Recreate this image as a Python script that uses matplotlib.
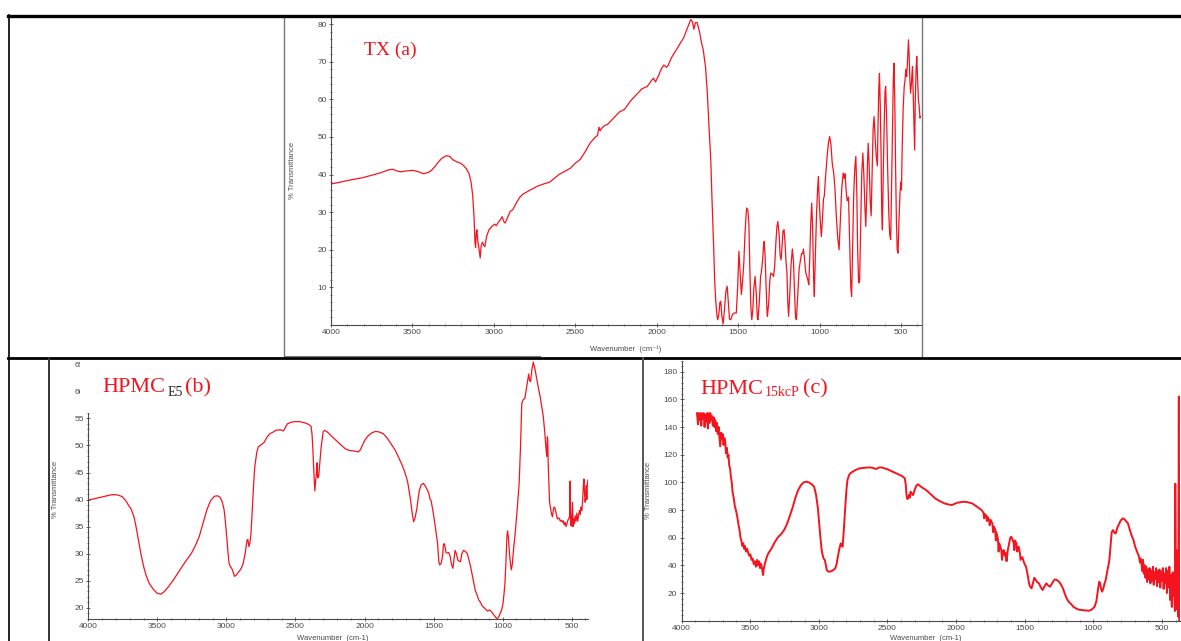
"""
FTIR spectra of TX, HPMC E5 and HPMC 15kcP, laid out as a three-cell figure.
"""
import matplotlib
matplotlib.use('Agg')
import matplotlib.pyplot as plt
import matplotlib.ticker as ticker
from matplotlib.lines import Line2D
from matplotlib.patches import Rectangle

W, H = 1181, 641
RED = '#f5141e'
GREY = '#4a4a4a'
SANS = ['Liberation Sans', 'DejaVu Sans']

# TX (a): (wavenumber, % transmittance)
spec_a = [
  (4000, 37.5), (3950, 37.9), (3900, 38.4), (3850, 38.8), (3801, 39.2), (3750, 39.8),
  (3700, 40.4), (3649, 41.2), (3620, 41.4), (3600, 41.0), (3570, 40.7), (3547, 40.9),
  (3496, 41.1), (3460, 40.7), (3432, 40.2), (3400, 40.6), (3381, 41.2), (3360, 42.2),
  (3343, 43.2), (3320, 44.3), (3292, 45.0), (3270, 44.8), (3254, 44.0), (3230, 43.4),
  (3210, 43.1), (3191, 42.6), (3170, 41.6), (3152, 40.2), (3140, 38.0), (3130, 34.5),
  (3122, 29.0), (3116, 22.0), (3112, 20.6), (3108, 24.5), (3104, 25.3), (3098, 22.0),
  (3092, 20.5), (3084, 17.8), (3078, 21.0), (3070, 22.0), (3062, 21.2), (3055, 20.8),
  (3045, 23.5), (3030, 25.3), (3012, 26.2), (2995, 26.8), (2985, 26.4), (2974, 27.2),
  (2960, 28.0), (2949, 28.8), (2938, 27.4), (2931, 27.1), (2915, 28.6), (2900, 30.2),
  (2885, 30.6), (2860, 32.6), (2840, 34.0), (2821, 34.8), (2780, 35.8), (2732, 36.9),
  (2700, 37.4), (2656, 38.0), (2600, 40.0), (2550, 41.2), (2529, 41.7), (2500, 43.0),
  (2470, 44.0), (2440, 46.0), (2410, 48.3), (2380, 49.8), (2363, 50.4), (2355, 52.6),
  (2348, 51.6), (2340, 52.2), (2320, 53.0), (2300, 53.4), (2260, 55.2), (2230, 56.6),
  (2198, 57.3), (2160, 59.6), (2121, 61.4), (2090, 62.8), (2058, 63.4), (2035, 64.8),
  (2020, 65.6), (2007, 64.6), (1990, 66.2), (1970, 68.2), (1956, 69.1), (1940, 68.5),
  (1931, 68.9), (1910, 71.0), (1892, 72.3), (1870, 73.8), (1854, 75.0), (1835, 76.3),
  (1816, 78.4), (1800, 80.2), (1791, 81.2), (1780, 80.6), (1772, 78.6), (1762, 80.4),
  (1752, 80.4), (1742, 78.8), (1735, 77.5), (1725, 75.0), (1714, 73.1), (1700, 68.5),
  (1689, 61.6), (1678, 52.0), (1668, 43.9), (1660, 33.0), (1651, 21.8), (1644, 12.0),
  (1638, 6.7), (1630, 2.5), (1625, 1.4), (1618, 3.0), (1612, 6.0), (1607, 6.3),
  (1600, 2.5), (1592, 0.3), (1584, 4.0), (1575, 9.0), (1567, 10.3), (1560, 6.0),
  (1553, 1.6), (1545, 1.4), (1535, 2.8), (1524, 3.2), (1511, 3.2), (1503, 10.0),
  (1495, 19.6), (1488, 14.0), (1480, 8.1), (1472, 12.0), (1465, 16.5), (1458, 24.0),
  (1450, 30.0), (1447, 31.1), (1440, 30.5), (1434, 27.1), (1428, 15.0), (1422, 5.0),
  (1416, 1.4), (1410, 4.0), (1403, 10.0), (1396, 12.9), (1388, 8.0), (1382, 2.0),
  (1378, 1.4), (1370, 6.0), (1362, 13.0), (1358, 13.8), (1350, 17.0), (1344, 21.0),
  (1340, 22.2), (1334, 18.0), (1328, 10.0), (1322, 3.0), (1320, 2.3), (1312, 6.0),
  (1305, 12.0), (1299, 13.8), (1290, 13.5), (1282, 12.9), (1275, 16.0), (1268, 22.0),
  (1262, 26.0), (1256, 27.5), (1248, 24.0), (1242, 18.5), (1236, 17.3), (1230, 21.0),
  (1224, 25.0), (1218, 25.3), (1212, 22.0), (1206, 17.0), (1200, 13.8), (1195, 6.0),
  (1190, 2.3), (1183, 8.0), (1175, 16.0), (1167, 20.2), (1160, 17.0), (1153, 8.0),
  (1147, 2.0), (1142, 1.4), (1135, 7.0), (1125, 15.0), (1117, 17.3), (1110, 19.0),
  (1104, 19.0), (1099, 20.2), (1092, 17.5), (1085, 14.0), (1078, 12.9), (1072, 12.0),
  (1066, 10.7), (1060, 18.0), (1054, 27.0), (1048, 32.4), (1042, 25.0), (1036, 12.0),
  (1032, 7.6), (1026, 18.0), (1018, 30.0), (1012, 36.0), (1007, 39.5), (1002, 33.0),
  (996, 28.0), (989, 23.5), (982, 28.0), (976, 33.5), (971, 34.2), (962, 40.0),
  (952, 45.5), (945, 48.5), (938, 50.1), (930, 48.0), (922, 43.0), (913, 40.4),
  (905, 36.0), (897, 29.0), (888, 23.0), (880, 20.0), (872, 28.0), (864, 36.0),
  (855, 40.4), (848, 39.0), (843, 40.2), (837, 35.9), (830, 33.0), (822, 34.0),
  (815, 22.0), (808, 10.0), (803, 7.6), (797, 20.0), (790, 35.0), (783, 42.0),
  (777, 44.8), (771, 35.0), (766, 20.0), (760, 11.2), (754, 11.5), (748, 25.0),
  (741, 40.0), (734, 45.7), (728, 40.0), (722, 32.0), (716, 26.2), (710, 35.0),
  (705, 44.0), (701, 48.3), (695, 42.0), (689, 33.0), (683, 29.0), (677, 40.0),
  (671, 52.0), (665, 55.4), (659, 50.0), (652, 45.0), (645, 42.3), (640, 55.0),
  (636, 63.0), (632, 66.9), (627, 58.0), (622, 45.0), (618, 30.0), (614, 25.3),
  (608, 42.0), (602, 55.0), (598, 62.0), (594, 63.4), (588, 55.0), (582, 42.0),
  (575, 30.0), (569, 24.0), (563, 22.7), (557, 38.0), (551, 55.0), (547, 65.0),
  (543, 69.6), (538, 60.0), (533, 42.0), (528, 28.0), (523, 20.0), (518, 19.1),
  (512, 28.0), (506, 35.0), (501, 38.0), (497, 35.9), (492, 48.0), (486, 58.0),
  (480, 63.4), (475, 65.0), (470, 68.0), (465, 66.0), (460, 70.0), (457, 73.0),
  (454, 75.8), (450, 72.0), (446, 66.0), (441, 61.6), (436, 64.0), (432, 67.0),
  (429, 68.7), (424, 60.0), (420, 52.0), (416, 46.5), (412, 60.0), (407, 68.0),
  (403, 71.4), (398, 66.0), (393, 60.0), (388, 58.0), (383, 55.0), (380, 55.4),
]

# HPMC E5 (b)
spec_b = [
  (4000, 39.9), (3950, 40.2), (3900, 40.5), (3864, 40.7), (3830, 40.9), (3808, 40.9),
  (3780, 40.8), (3753, 40.5), (3730, 39.8), (3711, 39.0), (3690, 38.2), (3670, 36.8),
  (3655, 35.0), (3642, 33.1), (3620, 30.0), (3600, 27.6), (3580, 25.8), (3559, 24.5),
  (3530, 23.4), (3503, 22.7), (3475, 22.5), (3450, 23.0), (3420, 23.9), (3380, 25.3),
  (3337, 27.0), (3295, 28.6), (3253, 30.1), (3225, 31.5), (3198, 33.1), (3170, 35.6),
  (3142, 38.1), (3115, 39.8), (3087, 40.6), (3065, 40.7), (3045, 40.4), (3030, 39.5),
  (3017, 38.1), (3008, 36.0), (2998, 33.1), (2990, 30.5), (2981, 28.2), (2970, 27.5),
  (2962, 27.3), (2952, 26.6), (2942, 25.8), (2930, 26.0), (2918, 26.4), (2906, 26.8),
  (2892, 27.3), (2879, 28.2), (2865, 30.0), (2851, 32.5), (2845, 32.6), (2837, 31.3),
  (2830, 32.0), (2823, 33.5), (2812, 38.5), (2803, 43.0), (2795, 46.1), (2780, 48.8),
  (2768, 49.8), (2745, 50.2), (2726, 50.6), (2705, 51.6), (2684, 52.2), (2660, 52.5),
  (2643, 52.8), (2610, 52.9), (2587, 52.7), (2570, 53.5), (2559, 54.0), (2530, 54.3),
  (2504, 54.4), (2470, 54.4), (2435, 54.2), (2405, 53.9), (2387, 53.5), (2380, 52.0),
  (2374, 49.1), (2366, 44.5), (2360, 41.6), (2354, 43.5), (2349, 44.6), (2344, 46.8),
  (2339, 44.0), (2332, 44.3), (2322, 47.5), (2315, 49.5), (2300, 52.5), (2290, 52.8),
  (2270, 52.5), (2250, 52.0), (2226, 51.4), (2200, 50.8), (2171, 50.1), (2140, 49.4),
  (2115, 49.1), (2080, 49.0), (2046, 48.8), (2030, 49.2), (2018, 49.9), (2000, 50.9),
  (1977, 51.7), (1950, 52.3), (1921, 52.6), (1895, 52.5), (1866, 52.2), (1840, 51.5),
  (1810, 50.4), (1780, 49.2), (1755, 47.9), (1730, 46.5), (1713, 45.4), (1695, 44.0),
  (1686, 43.0), (1675, 41.3), (1666, 39.8), (1655, 37.5), (1644, 35.9), (1635, 36.5),
  (1621, 38.3), (1610, 40.5), (1602, 41.8), (1590, 42.7), (1574, 43.0), (1560, 42.5),
  (1546, 41.8), (1535, 41.2), (1525, 40.0), (1519, 39.9), (1505, 38.0), (1491, 35.6),
  (1480, 33.5), (1471, 31.9), (1462, 28.5), (1455, 27.9), (1445, 28.2), (1435, 29.5),
  (1428, 31.8), (1421, 31.8), (1410, 30.2), (1399, 30.1), (1390, 30.2), (1380, 29.5),
  (1370, 28.0), (1360, 27.3), (1352, 29.0), (1344, 30.6), (1335, 30.0), (1324, 28.8),
  (1314, 28.6), (1305, 28.5), (1295, 30.0), (1283, 30.6), (1270, 30.4), (1255, 30.0),
  (1240, 28.5), (1227, 27.0), (1212, 25.0), (1199, 23.3), (1185, 22.3), (1172, 21.4),
  (1160, 21.0), (1150, 20.4), (1130, 19.9), (1110, 19.4), (1094, 19.6), (1078, 19.2),
  (1061, 18.6), (1050, 18.2), (1039, 18.0), (1028, 18.3), (1016, 19.0), (1005, 19.8),
  (997, 20.8), (990, 22.5), (983, 24.5), (975, 29.0), (968, 33.5), (964, 34.2),
  (958, 33.0), (950, 30.0), (944, 28.3), (937, 27.0), (930, 28.0), (920, 31.0),
  (908, 34.0), (895, 38.0), (880, 43.0), (870, 50.0), (861, 57.8), (850, 58.5),
  (839, 58.7), (825, 61.0), (811, 63.2), (804, 62.0), (797, 61.8), (788, 64.0),
  (778, 65.4), (766, 64.2), (755, 62.6), (742, 60.8), (728, 59.0), (716, 57.0),
  (705, 55.3), (695, 52.5), (686, 49.5), (680, 48.0), (676, 51.6), (673, 51.0),
  (670, 47.0), (665, 43.0), (660, 39.5), (653, 38.5), (646, 37.4), (639, 36.8),
  (630, 38.5), (623, 38.6), (617, 38.0), (610, 37.2), (603, 36.4), (596, 36.6),
  (589, 36.5), (582, 36.0), (575, 36.2), (568, 35.8), (561, 36.1), (554, 35.3),
  (547, 35.8), (540, 35.0), (534, 35.5), (527, 36.2), (520, 36.5), (514, 37.0),
  (511, 43.4), (508, 36.0), (503, 35.1), (498, 37.5), (494, 39.5), (490, 35.0),
  (486, 36.5), (480, 35.5), (474, 37.0), (468, 36.0), (462, 37.5), (456, 36.0),
  (450, 37.0), (444, 38.0), (438, 37.2), (432, 38.6), (426, 38.0), (420, 40.0),
  (415, 42.5), (411, 43.8), (406, 41.0), (402, 39.5), (398, 40.5), (394, 42.6),
  (390, 40.0), (386, 43.0), (382, 43.6),
]

# HPMC 15kcP (c)
spec_c = [
  (3887, 150), (3880, 142), (3874, 150), (3868, 145), (3862, 150), (3856, 141),
  (3850, 150), (3844, 146), (3838, 150), (3832, 140), (3826, 149), (3820, 144),
  (3814, 150), (3808, 139), (3802, 150), (3796, 143), (3790, 150), (3784, 145),
  (3778, 148), (3772, 141), (3766, 147), (3760, 140), (3754, 145), (3748, 137),
  (3742, 143), (3736, 135), (3730, 140), (3724, 133), (3718, 126), (3712, 136),
  (3706, 131), (3700, 135), (3694, 127), (3688, 132), (3682, 130), (3676, 121),
  (3670, 125), (3664, 118), (3658, 120), (3652, 112), (3646, 110), (3640, 104),
  (3634, 100), (3628, 93), (3620, 89), (3612, 83), (3604, 80), (3595, 76),
  (3586, 70), (3578, 66), (3570, 60), (3562, 57), (3556, 54), (3550, 56),
  (3544, 52), (3538, 54), (3530, 50), (3522, 52), (3514, 49), (3506, 47),
  (3498, 48), (3490, 44), (3482, 45), (3474, 41), (3466, 43), (3458, 39),
  (3450, 44), (3442, 40), (3434, 43), (3428, 38), (3420, 41), (3412, 37),
  (3406, 33), (3400, 38), (3393, 41), (3385, 44), (3375, 47), (3366, 49),
  (3345, 52), (3325, 56), (3300, 60), (3271, 63), (3250, 66), (3231, 70),
  (3210, 76), (3190, 82), (3170, 89), (3150, 94.5), (3130, 98), (3110, 100),
  (3090, 100.5), (3069, 99.8), (3050, 98.5), (3034, 96.9), (3020, 91), (3007, 82),
  (2997, 70), (2988, 60), (2980, 52), (2975, 48.7), (2965, 45), (2956, 43.9),
  (2948, 40), (2942, 36.6), (2930, 35.5), (2921, 35.4), (2900, 36.2), (2880, 37.8),
  (2870, 41), (2861, 46.3), (2850, 52), (2840, 55.9), (2833, 54), (2826, 53.5),
  (2816, 68), (2807, 82.4), (2798, 95), (2791, 101.7), (2780, 105), (2772, 106.5),
  (2740, 108.5), (2705, 110.1), (2660, 110.6), (2624, 110.8), (2600, 110.3), (2583, 109.6),
  (2560, 110.8), (2543, 110.8), (2500, 109.5), (2462, 107.7), (2430, 106.3), (2394, 104.6),
  (2373, 102.9), (2366, 98), (2362, 92.0), (2356, 88), (2349, 88.4), (2342, 91),
  (2336, 89), (2332, 93.3), (2322, 92), (2313, 90.8), (2300, 95), (2290, 97.5),
  (2278, 98.6), (2250, 96.5), (2219, 94.5), (2185, 91.5), (2152, 88.4), (2120, 86.5),
  (2084, 84.8), (2055, 84), (2030, 83.6), (2010, 84.5), (1990, 85.3), (1960, 85.8),
  (1936, 86.0), (1910, 85.5), (1882, 84.8), (1850, 82.5), (1830, 81), (1814, 80),
  (1800, 78), (1795, 74), (1790, 77), (1780, 76), (1775, 72), (1770, 75),
  (1760, 73), (1755, 69), (1747, 72.8), (1735, 70), (1730, 64), (1725, 68),
  (1715, 66), (1710, 58), (1706, 64), (1695, 59), (1690, 50), (1685, 56),
  (1679, 54), (1670, 51), (1665, 44), (1660, 50), (1652, 51), (1645, 47),
  (1640, 49), (1632, 43), (1625, 49.9), (1615, 55), (1605, 60), (1598, 60.7),
  (1590, 59), (1580, 56), (1575, 51), (1571, 58), (1560, 56), (1555, 50),
  (1544, 53.5), (1535, 49), (1530, 44), (1517, 46), (1505, 42), (1490, 39),
  (1478, 33), (1470, 28), (1463, 25), (1450, 23.4), (1440, 27), (1430, 31),
  (1423, 30), (1410, 28), (1396, 27), (1382, 24), (1369, 22.2), (1355, 25),
  (1342, 27), (1330, 25.5), (1315, 24.6), (1300, 27), (1285, 29.5), (1275, 29.9),
  (1260, 29), (1248, 28), (1235, 26), (1221, 23.4), (1208, 19.5), (1194, 16.1),
  (1178, 13.5), (1161, 12), (1145, 10), (1126, 8.9), (1106, 8), (1086, 7.7),
  (1060, 7.5), (1032, 7.2), (1012, 8), (991, 10.1), (978, 14), (970, 20),
  (964, 24), (957, 28.2), (951, 27), (943, 23), (936, 21), (928, 23),
  (918, 27), (910, 29.4), (900, 35), (890, 40), (883, 44), (874, 55),
  (866, 64), (856, 65.5), (846, 63.5), (837, 63.1), (826, 67), (816, 69.2),
  (800, 72.5), (784, 74), (770, 73), (758, 71.5), (748, 70.4), (735, 66),
  (722, 62), (708, 58.3), (695, 53.5), (680, 49.5), (667, 46.3), (660, 42),
  (656, 45), (650, 42), (644, 36), (638, 44), (632, 34), (626, 40),
  (620, 31), (614, 39), (608, 28), (602, 37), (596, 30), (590, 38),
  (584, 27), (578, 36), (572, 29), (566, 39), (560, 26), (554, 35),
  (548, 30), (542, 38), (536, 25), (530, 36), (524, 28), (518, 37),
  (512, 24), (506, 35), (500, 29), (494, 38), (488, 23), (482, 34),
  (476, 27), (470, 38), (464, 20), (458, 36), (452, 24), (446, 39),
  (440, 15), (434, 33), (428, 10), (422, 35), (416, 18), (410, 30),
  (406, 7), (403, 99), (399, 45), (394, 51), (389, 8), (385, 40),
  (381, 3), (377, 162), (374, 0.5),
]

panels = [
  # (x0, x1, y_top, y_bottom) in pixels, xlim, ylim, y ticks, y minor step, ylabel pad
  ((331, 920.5, 16.5, 325), (4000, 380), (0, 82), range(10, 81, 10), 2, 15),
  ((88.4, 588.2, 360, 619.3), (4000, 380), (17.86, 65.8), range(20, 66, 5), 1, 11),
  ((681.5, 1179.8, 360.6, 621), (4000, 370), (-0.2, 188), range(20, 181, 20), 4, 8),
]
series = [(spec_a, 0.9), (spec_b, 0.9), (spec_c, 1.4)]

def fx(x):
  return x / W

def fy(y):
  return 1 - y / H

fig = plt.figure(figsize=(W / 100, H / 100), dpi=100)
axes = []
for (x0, x1, yt, yb), xl, yl, yt_list, ymin_step, ypad in panels:
  ax = fig.add_axes([fx(x0), fy(yb), (x1 - x0) / W, (yb - yt) / H])
  ax.set_xlim(*xl)
  ax.set_ylim(*yl)
  for s in ['top', 'right']:
    ax.spines[s].set_visible(False)
  for s in ['left', 'bottom']:
    ax.spines[s].set_color(GREY)
    ax.spines[s].set_linewidth(0.8)
  ax.set_xticks([4000, 3500, 3000, 2500, 2000, 1500, 1000, 500])
  ax.xaxis.set_minor_locator(ticker.MultipleLocator(100))
  ax.set_yticks(list(yt_list))
  ax.yaxis.set_minor_locator(ticker.MultipleLocator(ymin_step))
  ax.tick_params(which='major', length=3, width=0.6, color=GREY, labelsize=6,
                 labelcolor=GREY, pad=1.5, direction='inout')
  ax.tick_params(which='minor', length=1.5, width=0.5, color=GREY,
                 direction='inout')
  for lab in ax.get_xticklabels() + ax.get_yticklabels():
    lab.set_family(SANS)
  ax.patch.set_alpha(0)
  ax.set_ylabel('% Transmittance', fontsize=5.5, color=GREY, family=SANS,
                labelpad=ypad)
  axes.append(ax)

for ax, (spec, lw) in zip(axes, series):
  wn = [p[0] for p in spec]
  t = [p[1] for p in spec]
  ax.plot(wn, t, color=RED, lw=lw)

axes[0].set_xlabel('Wavenumber  (cm\u207b\u00b9)', fontsize=5.5, color=GREY,
                   family=SANS, labelpad=7)
fig.text(fx(333), fy(638), 'Wavenumber  (cm-1)', fontsize=5.5, color=GREY,
         family=SANS, ha='center', va='center')
fig.text(fx(926), fy(639), 'Wavenumber  (cm-1)', fontsize=5.5, color=GREY,
         family=SANS, ha='center', va='center')

# white cover over the top of the (b) y axis, as in the source picture
fig.add_artist(Rectangle((fx(79.5), fy(413)), (215 - 79.5) / W, (413 - 358) / H,
                         transform=fig.transFigure, facecolor='white',
                         edgecolor='none', zorder=5))

# panel labels
serif = 'Liberation Serif'
fig.text(fx(364), fy(50), 'TX (a)', fontsize=14, color=RED, family=serif,
         va='center', zorder=6)
fig.text(fx(102), fy(388), 'HPMC', fontsize=16, color=RED, family=serif,
         va='center', zorder=6)
fig.text(fx(168), fy(393), 'E5', fontsize=10, color='#222222', family=serif,
         va='center', zorder=6)
fig.text(fx(185), fy(388), '(b)', fontsize=16, color=RED, family=serif,
         va='center', zorder=6)
fig.text(fx(700), fy(389), 'HPMC', fontsize=16, color=RED, family=serif,
         va='center', zorder=6)
fig.text(fx(765), fy(393), '15kcP', fontsize=10, color=RED, family=serif,
         va='center', zorder=6)
fig.text(fx(803), fy(389), '(c)', fontsize=16, color=RED, family=serif,
         va='center', zorder=6)

def hline(y, x0, x1, lw, color='black'):
  fig.add_artist(Line2D([fx(x0), fx(x1)], [fy(y), fy(y)], lw=lw, color=color,
                        transform=fig.transFigure, zorder=7))

def vline(x, y0, y1, lw, color='black'):
  fig.add_artist(Line2D([fx(x), fx(x)], [fy(y0), fy(y1)], lw=lw, color=color,
                        transform=fig.transFigure, zorder=7))

# image frame of (a)
vline(283.5, 16, 356, 1.0, '#777777')
vline(922, 16, 356, 1.0, '#777777')
hline(355.5, 283.5, 540, 0.8, '#777777')
# table borders
hline(15.5, 8, W, 2.4)
hline(357.5, 8, W, 2.0)
vline(8.5, 15, H, 1.2)
vline(49, 358, H, 1.4, '#333333')
vline(643, 358, H, 1.4, '#555555')

plt.savefig('out.png', dpi=100)
